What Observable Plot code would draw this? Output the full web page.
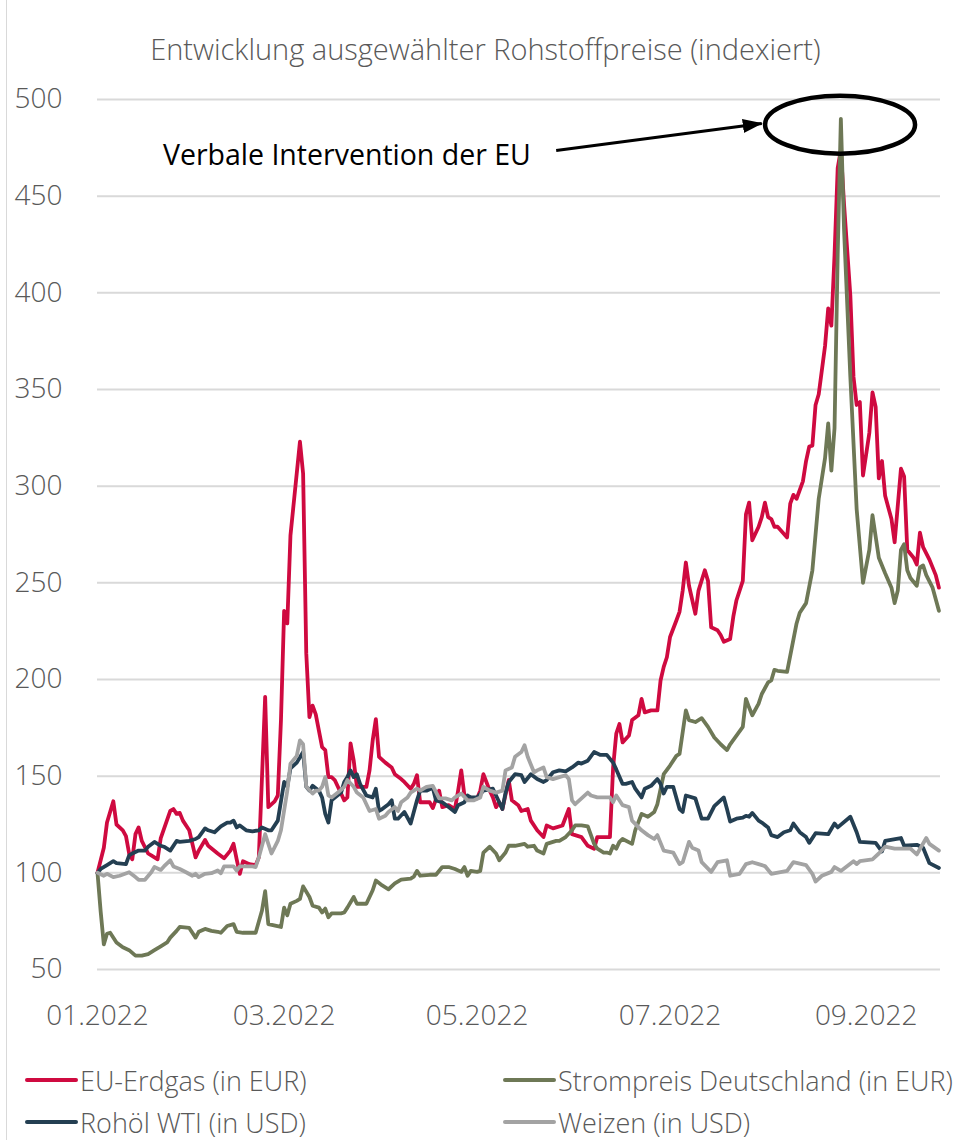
<!DOCTYPE html>
<html>
<head>
<meta charset="utf-8">
<script src="https://cdn.jsdelivr.net/npm/d3@7"></script>
<script src="https://cdn.jsdelivr.net/npm/@observablehq/plot@0.6"></script>
<style>
  body { margin: 0; background: #fff; }
  #wrap { position: relative; width: 957px; height: 1140px; overflow: hidden; background: #fff; font-family: "Open Sans", sans-serif; }
  #frame { position: absolute; left: 6px; top: 0; width: 0; height: 1140px; border-left: 1.5px solid #d9d9d9; }
  #title { position: absolute; top: 29px; left: 0; width: 971px; text-align: center; font-size: 29px; line-height: 40px; font-weight: 300; color: #595959; white-space: nowrap; }
  #chart { position: absolute; left: 0; top: 70px; }
  .leg { position: absolute; display: flex; align-items: center; font-size: 27px; font-weight: 300; color: #595959; white-space: nowrap; }
  .leg span.sw { display: inline-block; width: 53px; height: 4.5px; margin-right: 2px; border-radius: 2px; }
</style>
</head>
<body>
<div id="wrap">
  <div id="frame"></div>
  <div id="title"></div>
  <div id="chart"></div>
  <div id="legend"></div>
</div>
<script>
// ---------- data (index, 01.2022 = 100) ----------
const chartTitle = "Entwicklung ausgewählter Rohstoffpreise (indexiert)";
const seriesNames = ["EU-Erdgas (in EUR)", "Strompreis Deutschland (in EUR)", "Rohöl WTI (in USD)", "Weizen (in USD)"];
const seriesColors = ["#CF0A40", "#6E7856", "#243F52", "#A3A3A3"];
const yTicks = [50, 100, 150, 200, 250, 300, 350, 400, 450, 500];
const xTicks = ["2022-01-01", "2022-03-01", "2022-05-01", "2022-07-01", "2022-09-01"];
const xDomain = ["2022-01-01", "2022-09-24T12:00"];

const gas = [
["2022-01-01",100],["2022-01-03",113],["2022-01-04",126],["2022-01-06",137],["2022-01-07",125],["2022-01-09",122],
["2022-01-10",119],["2022-01-11",110],["2022-01-12",107],["2022-01-13",120],["2022-01-14",123.5],["2022-01-15",116.5],
["2022-01-17",110],["2022-01-18",109],["2022-01-20",107],["2022-01-21",118],["2022-01-24",132],["2022-01-25",133],
["2022-01-26",130.5],["2022-01-27",131],["2022-01-28",127],["2022-01-30",122],["2022-02-01",108],["2022-02-02",111.5],
["2022-02-04",117],["2022-02-05",114],["2022-02-08",110],["2022-02-10",107.5],["2022-02-12",111.5],["2022-02-13",115],
["2022-02-14",107],["2022-02-15",99.5],["2022-02-16",106],["2022-02-18",104.5],["2022-02-20",104],["2022-02-21",108],
["2022-02-23",191],["2022-02-24",134],["2022-02-26",137],["2022-02-27",140],["2022-02-28",179],["2022-03-01",235.5],
["2022-03-02",229],["2022-03-03",274.5],["2022-03-06",323],["2022-03-07",306.5],["2022-03-08",213.5],["2022-03-09",180.5],
["2022-03-10",186.5],["2022-03-11",182],["2022-03-13",165],["2022-03-14",163.5],["2022-03-15",149.5],["2022-03-16",149.5],
["2022-03-17",148],["2022-03-19",141],["2022-03-20",137.5],["2022-03-21",139],["2022-03-22",167],["2022-03-23",158],
["2022-03-24",144.5],["2022-03-27",144.5],["2022-03-28",153],["2022-03-29",168.5],["2022-03-30",179.5],["2022-03-31",160],
["2022-04-02",157],["2022-04-04",154.5],["2022-04-05",151],["2022-04-07",148.5],["2022-04-08",147],["2022-04-10",143.5],
["2022-04-11",146],["2022-04-12",150.5],["2022-04-13",136.5],["2022-04-16",136.5],["2022-04-17",133.5],["2022-04-19",142.5],
["2022-04-20",134],["2022-04-22",135],["2022-04-24",133],["2022-04-25",142.5],["2022-04-26",153],["2022-04-27",140],
["2022-04-28",139],["2022-05-01",138.5],["2022-05-02",142.5],["2022-05-03",151],["2022-05-05",142.5],["2022-05-06",139],
["2022-05-07",134],["2022-05-08",136.5],["2022-05-09",133],["2022-05-11",148],["2022-05-12",137.5],["2022-05-14",135],
["2022-05-15",132],["2022-05-17",133],["2022-05-18",127],["2022-05-20",122],["2022-05-22",118.5],["2022-05-23",124.5],
["2022-05-25",123],["2022-05-28",124.5],["2022-05-30",133],["2022-05-31",120],["2022-06-03",118.5],["2022-06-05",114],
["2022-06-07",112.5],["2022-06-08",118.5],["2022-06-12",118.5],["2022-06-13",154.5],["2022-06-14",172],["2022-06-15",177],
["2022-06-16",167.5],["2022-06-18",171],["2022-06-19",179],["2022-06-21",181.5],["2022-06-22",190],["2022-06-23",183],
["2022-06-25",184],["2022-06-27",184],["2022-06-28",199.5],["2022-06-29",206.5],["2022-06-30",211.5],["2022-07-01",222],
["2022-07-03",230.5],["2022-07-04",235],["2022-07-05",246],["2022-07-06",260.5],["2022-07-07",248.5],["2022-07-09",234],
["2022-07-10",246],["2022-07-12",256.5],["2022-07-13",251],["2022-07-14",227],["2022-07-16",225.5],["2022-07-17",223],
["2022-07-18",219.5],["2022-07-20",221],["2022-07-21",232.5],["2022-07-22",241],["2022-07-24",251],["2022-07-25",285.5],
["2022-07-26",291.5],["2022-07-27",272],["2022-07-29",279],["2022-07-30",284],["2022-07-31",291.5],["2022-08-01",284],
["2022-08-02",283],["2022-08-03",279],["2022-08-04",279],["2022-08-07",273.5],["2022-08-08",291],["2022-08-09",295.5],
["2022-08-10",293.5],["2022-08-12",302.5],["2022-08-13",313],["2022-08-14",320.5],["2022-08-15",321],["2022-08-16",342],
["2022-08-17",347.5],["2022-08-19",372.5],["2022-08-20",392],["2022-08-21",383],["2022-08-22",419.5],["2022-08-23",464.5],
["2022-08-24",474],["2022-08-25",446],["2022-08-27",398.5],["2022-08-28",356.5],["2022-08-29",342],["2022-08-30",343.5],
["2022-08-31",305.5],["2022-09-02",327.5],["2022-09-03",348.5],["2022-09-04",341],["2022-09-05",304],["2022-09-06",313],
["2022-09-07",295],["2022-09-09",283],["2022-09-10",271],["2022-09-12",309],["2022-09-13",305],["2022-09-14",267],
["2022-09-16",263],["2022-09-17",259.5],["2022-09-18",276],["2022-09-19",268.5],["2022-09-21",262],["2022-09-23",254],
["2022-09-24",247.5]
];

const power = [
["2022-01-01",100],["2022-01-02",80],["2022-01-03",63],["2022-01-04",68.5],["2022-01-05",69],["2022-01-07",64],
["2022-01-09",61.5],["2022-01-11",60],["2022-01-13",57.2],["2022-01-15",57.2],["2022-01-17",58],["2022-01-19",60],
["2022-01-21",62],["2022-01-23",64],["2022-01-24",66.5],["2022-01-26",70],["2022-01-27",72],["2022-01-30",71.5],
["2022-02-01",66.5],["2022-02-02",69.5],["2022-02-04",71],["2022-02-06",70],["2022-02-08",69.5],["2022-02-09",69],
["2022-02-11",72.5],["2022-02-13",73.5],["2022-02-14",69.5],["2022-02-16",69],["2022-02-18",69],["2022-02-20",69],
["2022-02-22",80.5],["2022-02-23",90.5],["2022-02-24",73.5],["2022-02-28",72],["2022-03-01",82],["2022-03-02",78],
["2022-03-03",84],["2022-03-05",85.5],["2022-03-06",86.5],["2022-03-07",93],["2022-03-09",87.5],["2022-03-10",83],
["2022-03-12",82],["2022-03-13",79.5],["2022-03-14",81.5],["2022-03-15",77],["2022-03-16",79],["2022-03-19",79],
["2022-03-20",79.5],["2022-03-21",82],["2022-03-23",87.5],["2022-03-24",84],["2022-03-27",84],["2022-03-29",91],
["2022-03-30",96],["2022-04-01",93.5],["2022-04-03",91.5],["2022-04-05",94.5],["2022-04-07",96.5],["2022-04-10",97],
["2022-04-11",98],["2022-04-12",101],["2022-04-13",98.5],["2022-04-16",99],["2022-04-18",99],["2022-04-20",103],
["2022-04-22",103],["2022-04-24",102],["2022-04-26",100.5],["2022-04-27",103],["2022-04-28",98.5],["2022-04-29",101],
["2022-05-01",100.5],["2022-05-02",101],["2022-05-03",110.5],["2022-05-05",113.5],["2022-05-07",110],["2022-05-08",106.5],
["2022-05-10",110.5],["2022-05-11",114],["2022-05-13",114],["2022-05-16",115],["2022-05-17",113.5],["2022-05-19",114],
["2022-05-20",111.5],["2022-05-22",110],["2022-05-23",115],["2022-05-26",116.5],["2022-05-27",116.5],["2022-05-29",118.5],
["2022-05-31",122],["2022-06-01",124.5],["2022-06-03",124.5],["2022-06-05",124],["2022-06-06",119.5],["2022-06-07",115],
["2022-06-08",112.5],["2022-06-10",110.5],["2022-06-11",110.5],["2022-06-12",110],["2022-06-13",114],["2022-06-14",112.5],
["2022-06-15",116],["2022-06-16",117.5],["2022-06-19",115],["2022-06-20",122],["2022-06-22",130.5],["2022-06-24",129],
["2022-06-26",131.5],["2022-06-27",135.5],["2022-06-29",151],["2022-07-01",155.5],["2022-07-03",160.5],["2022-07-04",161.5],
["2022-07-06",184],["2022-07-07",179],["2022-07-09",178],["2022-07-11",180],["2022-07-13",175.5],["2022-07-15",170],
["2022-07-17",166.5],["2022-07-19",163.5],["2022-07-20",166.5],["2022-07-22",171],["2022-07-24",175.5],["2022-07-25",190],
["2022-07-26",185.5],["2022-07-27",181.5],["2022-07-29",187.5],["2022-07-30",192.5],["2022-08-01",198.5],["2022-08-02",199.5],
["2022-08-03",205],["2022-08-04",204.5],["2022-08-07",204],["2022-08-10",229],["2022-08-11",234.5],["2022-08-13",239.5],
["2022-08-15",256.5],["2022-08-17",293.5],["2022-08-19",314.5],["2022-08-20",332.5],["2022-08-21",308],["2022-08-22",330],
["2022-08-23",420],["2022-08-24",490],["2022-08-25",433],["2022-08-27",356.5],["2022-08-29",288],["2022-08-31",250],
["2022-09-02",267],["2022-09-03",285],["2022-09-05",263],["2022-09-07",255],["2022-09-09",247.5],["2022-09-10",239.5],
["2022-09-11",246],["2022-09-12",267],["2022-09-13",270],["2022-09-14",256.5],["2022-09-15",252.5],["2022-09-17",248.5],
["2022-09-18",258],["2022-09-19",259],["2022-09-20",254],["2022-09-22",247.5],["2022-09-24",235.5]
];

const oil = [
["2022-01-01",100],["2022-01-02",102],["2022-01-04",104],["2022-01-06",106],["2022-01-07",105],["2022-01-10",104.5],
["2022-01-11",109],["2022-01-12",110],["2022-01-14",111.5],["2022-01-16",111.5],["2022-01-17",113.5],["2022-01-19",116],
["2022-01-21",114],["2022-01-22",113.5],["2022-01-24",111.5],["2022-01-26",116.5],["2022-01-27",116],["2022-01-30",116.5],
["2022-02-01",117.5],["2022-02-02",118.5],["2022-02-04",123],["2022-02-05",122],["2022-02-07",121],["2022-02-09",124],
["2022-02-11",126],["2022-02-12",126],["2022-02-13",127],["2022-02-14",123.5],["2022-02-15",124.5],["2022-02-17",122],
["2022-02-19",121.5],["2022-02-21",122],["2022-02-22",123.5],["2022-02-24",122],["2022-02-25",122],["2022-02-27",127],
["2022-03-01",147],["2022-03-02",144.5],["2022-03-03",154],["2022-03-05",157],["2022-03-07",162.5],["2022-03-08",144.5],
["2022-03-09",142.5],["2022-03-10",145],["2022-03-12",142.5],["2022-03-13",139],["2022-03-14",130.5],["2022-03-15",126],
["2022-03-16",137.5],["2022-03-19",141.5],["2022-03-20",147],["2022-03-21",149.5],["2022-03-22",153],["2022-03-23",149.5],
["2022-03-24",151],["2022-03-25",146],["2022-03-27",140],["2022-03-29",139],["2022-03-30",143.5],["2022-03-31",132],
["2022-04-01",133],["2022-04-03",135.5],["2022-04-04",137.5],["2022-04-05",128],["2022-04-06",128],["2022-04-08",131.5],
["2022-04-10",125.5],["2022-04-12",137.5],["2022-04-13",142.5],["2022-04-15",142.5],["2022-04-17",144],["2022-04-18",137.5],
["2022-04-20",136.5],["2022-04-22",134],["2022-04-24",131.5],["2022-04-25",135],["2022-04-27",136.5],["2022-04-28",140],
["2022-04-29",139],["2022-05-01",139],["2022-05-03",142.5],["2022-05-06",143.5],["2022-05-07",140],["2022-05-09",133],
["2022-05-10",141.5],["2022-05-11",147],["2022-05-13",151],["2022-05-15",150.5],["2022-05-16",147],["2022-05-18",151],
["2022-05-20",148.5],["2022-05-22",147],["2022-05-23",148],["2022-05-25",152],["2022-05-27",153],["2022-05-29",152.5],
["2022-05-31",154.5],["2022-06-02",157],["2022-06-03",156.5],["2022-06-05",158],["2022-06-07",162.5],["2022-06-09",161],
["2022-06-11",161],["2022-06-13",157],["2022-06-14",153.5],["2022-06-16",146],["2022-06-17",146],["2022-06-19",147],
["2022-06-20",143.5],["2022-06-22",139],["2022-06-23",143.5],["2022-06-25",145],["2022-06-27",148.5],["2022-06-28",146],
["2022-06-29",141],["2022-06-30",144.5],["2022-07-02",144.5],["2022-07-04",133],["2022-07-05",131.5],["2022-07-06",140],
["2022-07-09",138.5],["2022-07-11",128],["2022-07-13",128],["2022-07-15",134.5],["2022-07-18",139],["2022-07-19",133],
["2022-07-20",126.5],["2022-07-22",128],["2022-07-24",128.5],["2022-07-25",129.5],["2022-07-26",129],["2022-07-27",131],
["2022-07-29",127],["2022-07-30",126],["2022-08-01",123.5],["2022-08-02",119.5],["2022-08-04",118.5],["2022-08-06",121],
["2022-08-08",122],["2022-08-09",125.5],["2022-08-11",121],["2022-08-13",118.5],["2022-08-14",115.5],["2022-08-16",120.5],
["2022-08-20",120],["2022-08-22",125.5],["2022-08-23",123.5],["2022-08-27",129],["2022-08-29",121],["2022-08-30",116],
["2022-09-04",115.5],["2022-09-06",111],["2022-09-07",116.5],["2022-09-12",118],["2022-09-13",114],["2022-09-17",114.5],
["2022-09-19",113],["2022-09-21",105],["2022-09-24",102.5]
];

const wheat = [
["2022-01-01",100],["2022-01-03",98.5],["2022-01-04",99.5],["2022-01-06",97.8],["2022-01-08",98.5],["2022-01-11",100.3],
["2022-01-13",97.8],["2022-01-14",96.4],["2022-01-16",96.4],["2022-01-18",100.3],["2022-01-19",103],["2022-01-21",101.5],
["2022-01-22",103.3],["2022-01-24",106.5],["2022-01-25",103.3],["2022-01-27",102],["2022-01-29",100.3],["2022-01-31",98.5],
["2022-02-01",99.5],["2022-02-02",97.8],["2022-02-04",99.5],["2022-02-06",99.8],["2022-02-08",101.2],["2022-02-09",99.8],
["2022-02-10",103.3],["2022-02-13",103.3],["2022-02-14",101.2],["2022-02-15",103.3],["2022-02-19",103.3],["2022-02-20",103],
["2022-02-21",108],["2022-02-23",120],["2022-02-25",110],["2022-02-27",116.5],["2022-02-28",122],["2022-03-02",142.5],
["2022-03-03",156.5],["2022-03-05",160.5],["2022-03-06",168.5],["2022-03-07",166.5],["2022-03-08",144.5],["2022-03-10",141],
["2022-03-11",142.5],["2022-03-12",142.5],["2022-03-13",144.5],["2022-03-14",149.5],["2022-03-15",140],["2022-03-16",139],
["2022-03-18",141.5],["2022-03-20",144.5],["2022-03-21",148],["2022-03-23",144.5],["2022-03-24",141.5],["2022-03-26",139],
["2022-03-27",135.5],["2022-03-28",132],["2022-03-30",133],["2022-03-31",128],["2022-04-02",129.5],["2022-04-03",131.5],
["2022-04-05",134],["2022-04-06",132],["2022-04-07",136.5],["2022-04-09",139],["2022-04-10",141.5],["2022-04-12",143.5],
["2022-04-13",142.5],["2022-04-15",144.5],["2022-04-17",145],["2022-04-19",138.5],["2022-04-21",138.5],["2022-04-23",137.5],
["2022-04-24",139],["2022-04-26",141],["2022-04-28",137.5],["2022-04-30",137.5],["2022-05-02",139],["2022-05-03",144.5],
["2022-05-05",142.5],["2022-05-07",141.5],["2022-05-09",142.5],["2022-05-10",153],["2022-05-12",154.5],["2022-05-13",160],
["2022-05-15",162.5],["2022-05-16",166],["2022-05-17",160],["2022-05-19",152],["2022-05-20",153],["2022-05-22",154.5],
["2022-05-23",149.5],["2022-05-25",148.5],["2022-05-27",149.5],["2022-05-29",150.5],["2022-05-30",148.5],["2022-05-31",137.5],
["2022-06-01",135.5],["2022-06-03",138.5],["2022-06-05",141.5],["2022-06-06",140],["2022-06-08",139],["2022-06-12",139],
["2022-06-13",136.5],["2022-06-14",140],["2022-06-16",135],["2022-06-18",134],["2022-06-19",127],["2022-06-22",122],
["2022-06-24",119.5],["2022-06-26",117.5],["2022-06-27",119.5],["2022-06-29",111.5],["2022-07-02",110.5],["2022-07-04",104.5],
["2022-07-05",105.5],["2022-07-07",116],["2022-07-08",113],["2022-07-10",111.5],["2022-07-11",105.5],["2022-07-14",100.5],
["2022-07-16",105.5],["2022-07-19",106.5],["2022-07-20",98.5],["2022-07-23",99.5],["2022-07-25",104.5],["2022-07-27",105.5],
["2022-07-29",104.5],["2022-07-31",103.5],["2022-08-02",99.5],["2022-08-07",101],["2022-08-09",105.5],["2022-08-13",104],
["2022-08-15",99.5],["2022-08-16",95.5],["2022-08-18",98.5],["2022-08-21",100.5],["2022-08-22",103],["2022-08-24",101],
["2022-08-28",106],["2022-08-29",104.5],["2022-08-30",106],["2022-09-03",107],["2022-09-05",110],["2022-09-07",113.5],
["2022-09-10",112.5],["2022-09-13",112.5],["2022-09-15",112.5],["2022-09-17",109.5],["2022-09-20",118],["2022-09-21",115],
["2022-09-24",111.5]
];

// annotation (placed in data coordinates)
const noteText = "Verbale Intervention der EU";
const noteTextAt = ["2022-05-18", 471];
const noteArrowFrom = ["2022-05-26", 473.6];
const noteArrowTo = ["2022-07-30", 487.6];
const noteCircleAt = ["2022-08-23T18:00", 487];

// ---------- build ----------
const D = s => new Date(s + (s.length === 10 ? "T00:00Z" : "Z"));
const seriesData = [gas, power, oil, wheat];
const rows = seriesData.flatMap((arr, i) => arr.map(([d, v]) => ({series: seriesNames[i], date: D(d), value: v})));

document.getElementById("title").textContent = chartTitle;

// ellipse symbol for the highlight
const ellipseSymbol = {
  draw(ctx) {
    const rx = 75, ry = 29, k = 0.5523;
    ctx.moveTo(rx, 0);
    ctx.bezierCurveTo(rx, ry * k, rx * k, ry, 0, ry);
    ctx.bezierCurveTo(-rx * k, ry, -rx, ry * k, -rx, 0);
    ctx.bezierCurveTo(-rx, -ry * k, -rx * k, -ry, 0, -ry);
    ctx.bezierCurveTo(rx * k, -ry, rx, -ry * k, rx, 0);
    ctx.closePath();
  }
};

const chart = Plot.plot({
  width: 957,
  height: 980,
  marginLeft: 97,
  marginRight: 17,
  marginTop: 29,
  marginBottom: 81,
  style: {fontFamily: "'Open Sans', sans-serif", fontSize: "28px", fontWeight: 300, color: "#595959", background: "transparent", overflow: "visible"},
  x: {type: "utc", domain: xDomain.map(D), ticks: xTicks.map(D), tickFormat: d3.utcFormat("%m.%Y"), tickSize: 0, tickPadding: 36, label: null},
  y: {domain: [50, 500], ticks: yTicks, tickSize: 0, tickPadding: 35, label: null},
  color: {domain: seriesNames, range: seriesColors},
  marks: [
    Plot.ruleY(yTicks, {stroke: "#d9d9d9", strokeWidth: 2}),
    Plot.line(rows, {x: "date", y: "value", z: "series", stroke: "series", strokeWidth: 3.8, strokeLinejoin: "round", strokeLinecap: "round"}),
    Plot.link([0], {x1: () => D(noteArrowFrom[0]), y1: () => noteArrowFrom[1], x2: () => D(noteArrowTo[0]), y2: () => noteArrowTo[1], stroke: "#000", strokeWidth: 3, className: "note-arrow"}),
    Plot.dot([0], {x: () => D(noteCircleAt[0]), y: () => noteCircleAt[1], symbol: ellipseSymbol, r: 10, stroke: "#000", strokeWidth: 4.5, fill: "none"}),
    Plot.text([noteText], {x: () => D(noteTextAt[0]), y: () => noteTextAt[1], text: d => d, textAnchor: "end", fill: "#000", fontSize: 28.5, fontWeight: 400})
  ]
});
document.getElementById("chart").appendChild(chart);

// filled arrow head on the annotation link
(function () {
  const ns = "http://www.w3.org/2000/svg";
  const defs = document.createElementNS(ns, "defs");
  const marker = document.createElementNS(ns, "marker");
  marker.setAttribute("id", "noteHead");
  marker.setAttribute("viewBox", "0 0 20 14");
  marker.setAttribute("refX", "19");
  marker.setAttribute("refY", "7");
  marker.setAttribute("markerWidth", "20");
  marker.setAttribute("markerHeight", "14");
  marker.setAttribute("markerUnits", "userSpaceOnUse");
  marker.setAttribute("orient", "auto");
  const p = document.createElementNS(ns, "path");
  p.setAttribute("d", "M0,0L20,7L0,14Z");
  p.setAttribute("fill", "#000");
  marker.appendChild(p);
  defs.appendChild(marker);
  chart.insertBefore(defs, chart.firstChild);
  chart.querySelectorAll(".note-arrow path").forEach(el => el.setAttribute("marker-end", "url(#noteHead)"));
})();

// legend
const legendPos = [[25, 1080], [503, 1080], [25, 1122], [503, 1122]];
const lg = document.getElementById("legend");
seriesNames.forEach((name, i) => {
  const d = document.createElement("div");
  d.className = "leg";
  d.style.left = legendPos[i][0] + "px";
  d.style.top = (legendPos[i][1] - 19) + "px";
  d.style.height = "38px";
  d.innerHTML = `<span class="sw" style="background:${seriesColors[i]}"></span><span>${name}</span>`;
  lg.appendChild(d);
});
</script>
</body>
</html>
